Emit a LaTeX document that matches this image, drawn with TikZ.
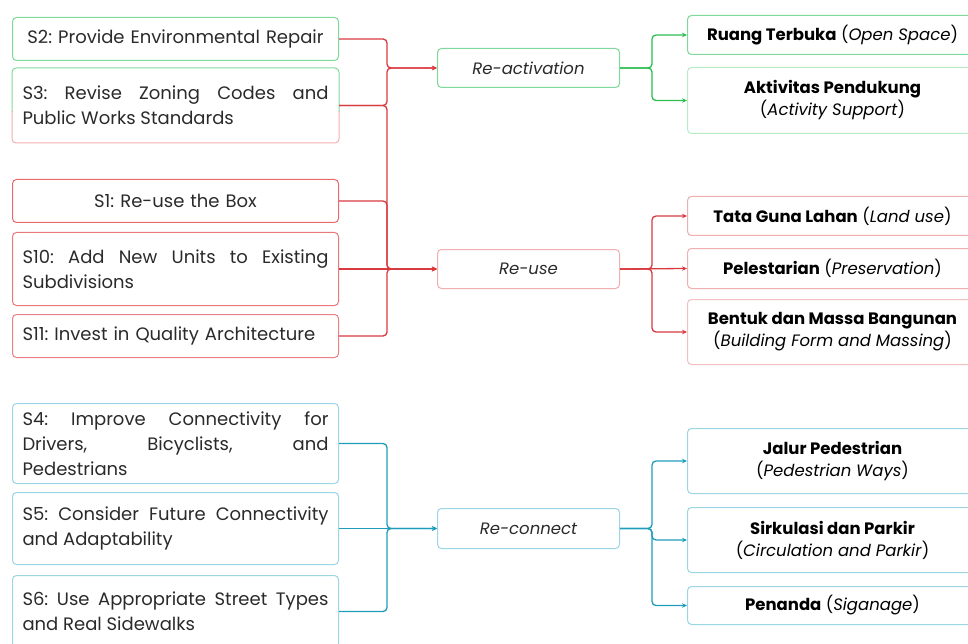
\documentclass[tikz,border=0pt]{standalone}
\usepackage{fontspec}
\setmainfont{Poppins}
\usetikzlibrary{arrows.meta,calc}
\definecolor{lred}{HTML}{D93A40}
\definecolor{lgreen}{HTML}{2EBD4F}
\definecolor{lteal}{HTML}{1E9DBB}
\definecolor{bred}{HTML}{E86A6E}
\definecolor{bredl}{HTML}{F2AFB0}
\definecolor{bgreen}{HTML}{7ED99A}
\definecolor{bgreenl}{HTML}{B9EBC6}
\definecolor{bteal}{HTML}{9CD5E3}
\definecolor{txt}{HTML}{2A2A2A}
\hyphenpenalty=10000
\frenchspacing
\begin{document}
\begin{tikzpicture}[x=1pt,y=-1pt,
  lbox/.style={rounded corners=4pt, line width=1pt, text width=306pt, inner xsep=10pt, inner ysep=0pt,
    font=\fontsize{18}{25}\selectfont, align=justify, text=txt, anchor=north west},
  mbox/.style={rounded corners=4pt, line width=1pt, minimum width=182pt, inner sep=0pt,
    font=\fontsize{16.5}{20}\selectfont\itshape, text=txt, anchor=north west},
  rbox/.style={rounded corners=4pt, line width=1pt, minimum width=290pt, inner sep=0pt,
    font=\fontsize{16.5}{22}\selectfont, align=center, text=black, anchor=north west},
  conn/.style={draw=#1, line width=1.3pt, rounded corners=4pt, -{Stealth[length=5pt,width=4.5pt]}}
]
\useasboundingbox (0,0) rectangle (968,644);
\clip (0,0) rectangle (968,644);
\coordinate (bl) at (387,0);
\coordinate (br) at (652,0);

% left boxes
\node[lbox, draw=bgreen, minimum height=43pt, align=center] (s2) at (12,17) {S2: Provide Environmental Repair};
\node[lbox, minimum height=74pt] (s3) at (12,68) {S3: Revise Zoning Codes and\linebreak Public Works Standards};
\begin{scope}
  \clip (0,60) rectangle (400,112);
  \draw[bgreen, line width=1pt, rounded corners=4pt] (s3.north west) rectangle (s3.south east);
\end{scope}
\begin{scope}
  \clip (0,112) rectangle (400,150);
  \draw[bredl, line width=1pt, rounded corners=4pt] (s3.north west) rectangle (s3.south east);
\end{scope}
\node[lbox, draw=bred, minimum height=43pt, align=center] (s1) at (12,179) {S1: Re-use the Box};
\node[lbox, draw=bred!80!bredl, minimum height=73pt] (s10) at (12,232) {S10: Add New Units to Existing\linebreak Subdivisions};
\node[lbox, draw=bred!70!bredl, minimum height=43pt, align=left] (s11) at (12,314) {S11: Invest in Quality Architecture};
\node[lbox, draw=bteal, minimum height=80pt] (s4) at (12,403) {S4: Improve Connectivity for\linebreak Drivers, Bicyclists, and\linebreak Pedestrians};
\node[lbox, draw=bteal, minimum height=72pt] (s5) at (12,492) {S5: Consider Future Connectivity\linebreak and Adaptability};
\node[lbox, draw=bteal, minimum height=72pt] (s6) at (12,575) {S6: Use Appropriate Street Types\linebreak and Real Sidewalks};

% middle boxes
\node[mbox, draw=bgreen, minimum height=39pt] (ra) at (437,48) {Re-activation};
\node[mbox, draw=bredl, minimum height=39pt] (ru) at (437,249) {Re-use};
\node[mbox, draw=bteal, minimum height=40pt] (rc) at (437,508) {Re-connect};

% right boxes
\node[rbox, draw=bgreen, minimum height=39pt] (r1) at (687,15) {\textbf{Ruang Terbuka} (\textit{Open Space})};
\node[rbox, draw=bgreenl, minimum height=66pt] (r2) at (687,67) {\textbf{Aktivitas Pendukung}\\(\textit{Activity Support})};
\node[rbox, draw=bredl, minimum height=39pt] (r3) at (687,196) {\textbf{Tata Guna Lahan} (\textit{Land use})};
\node[rbox, draw=bredl, minimum height=40pt] (r4) at (687,248) {\textbf{Pelestarian} (\textit{Preservation})};
\node[rbox, draw=bredl!80!white, minimum height=65pt] (r5) at (687,299) {\textbf{Bentuk dan Massa Bangunan}\\(\textit{Building Form and Massing})};
\node[rbox, draw=bteal, minimum height=65pt] (r6) at (687,428) {\textbf{Jalur Pedestrian}\\(\textit{Pedestrian Ways})};
\node[rbox, draw=bteal, minimum height=65pt] (r7) at (687,507) {\textbf{Sirkulasi dan Parkir}\\(\textit{Circulation and Parkir})};
\node[rbox, draw=bteal, minimum height=38pt] (r8) at (687,586) {\textbf{Penanda} (\textit{Siganage})};

% left connectors
\draw[conn=lred] (s2.east) -| (bl |- ra.west) -- (ra.west);
\draw[conn=lred] (s3.east) -| (bl |- ra.west) -- (ra.west);
\draw[conn=lred] (s3.east) -| (bl |- ru.west) -- (ru.west);
\draw[conn=lred] (s1.east) -| (bl |- ru.west) -- (ru.west);
\draw[conn=lred] (s10.east) -- (ru.west);
\draw[conn=lred] (s11.east) -| (bl |- ru.west) -- (ru.west);
\draw[conn=lteal] (s4.east) -| (bl |- rc.west) -- (rc.west);
\draw[conn=lteal] (s5.east) -- (rc.west);
\draw[conn=lteal] (s6.east) -| (bl |- rc.west) -- (rc.west);

% right connectors
\draw[conn=lgreen] (ra.east) -- (br |- ra.east) |- (r1.west);
\draw[conn=lgreen] (ra.east) -- (br |- ra.east) |- (r2.west);
\draw[conn=lred] (ru.east) -- (br |- ru.east) |- (r3.west);
\draw[conn=lred] (ru.east) -- (r4.west);
\draw[conn=lred] (ru.east) -- (br |- ru.east) |- (r5.west);
\draw[conn=lteal] (rc.east) -- (br |- rc.east) |- (r6.west);
\draw[conn=lteal] (rc.east) -- (br |- rc.east) |- (r7.west);
\draw[conn=lteal] (rc.east) -- (br |- rc.east) |- (r8.west);
\end{tikzpicture}
\end{document}
